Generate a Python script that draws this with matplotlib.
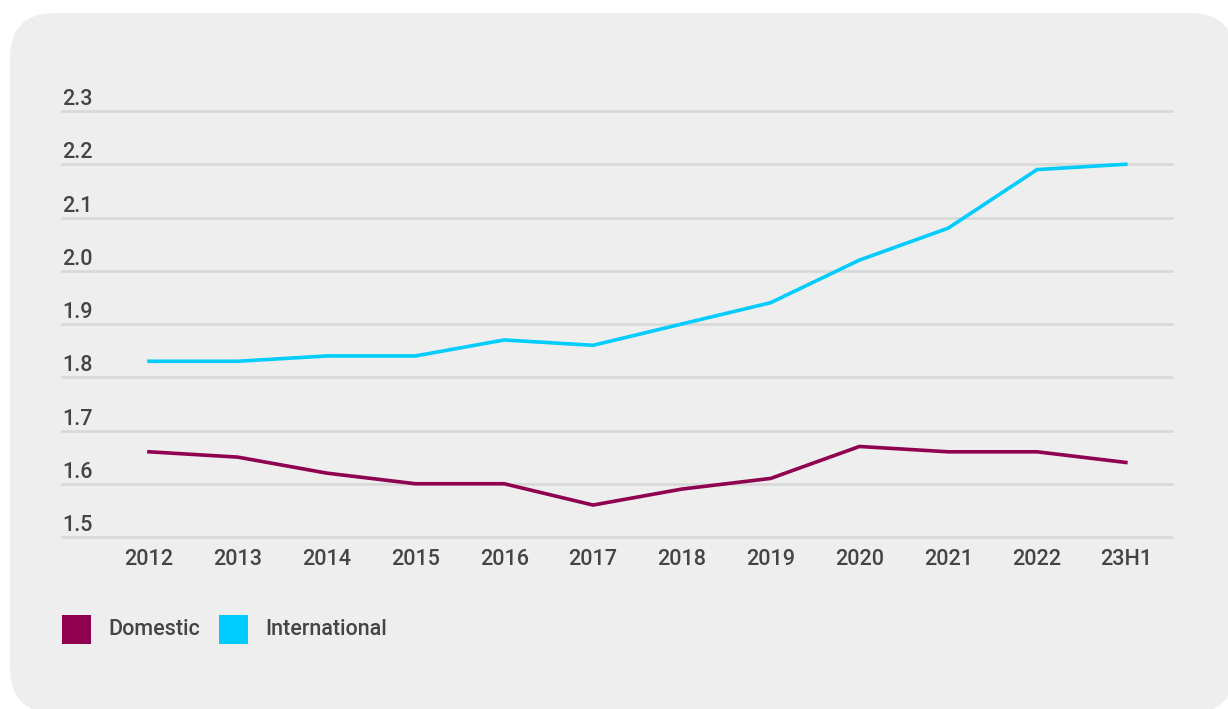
import numpy as np
import matplotlib
matplotlib.use("Agg")
from matplotlib import pyplot as plt
from matplotlib.patches import FancyBboxPatch, Rectangle
from matplotlib.transforms import IdentityTransform, ScaledTranslation, blended_transform_factory

plt.rcParams['font.family'] = ['Roboto', 'DejaVu Sans']
plt.rcParams['font.weight'] = 'medium'

years = ["2012", "2013", "2014", "2015", "2016", "2017",
         "2018", "2019", "2020", "2021", "2022", "23H1"]
domestic = [1.66, 1.65, 1.62, 1.60, 1.60, 1.56, 1.59, 1.61, 1.67, 1.66, 1.66, 1.64]
international = [1.83, 1.83, 1.84, 1.84, 1.87, 1.86, 1.90, 1.94, 2.02, 2.08, 2.19, 2.20]
y_ticks = [1.5, 1.6, 1.7, 1.8, 1.9, 2.0, 2.1, 2.2, 2.3]

dom_color = "#8f004f"
intl_color = "#00ccff"
text_color = "#444444"
grid_color = "#d9d9d9"
panel_color = "#eeeeee"

W, H = 1228, 709
fig = plt.figure(figsize=(W / 100, H / 100), dpi=100)
fig.patch.set_facecolor("white")

# rounded grey card behind everything (pixel coords, origin bottom-left)
card = FancyBboxPatch((10, -4), 1225, 700, boxstyle="round,pad=0,rounding_size=45",
                      transform=IdentityTransform(), facecolor=panel_color,
                      edgecolor="none", zorder=-5)
fig.patches.append(card)

ax = fig.add_axes([62 / W, (H - 537) / H, (1172 - 62) / W, (537 - 111) / H])
ax.set_zorder(2)
ax.set_facecolor("none")
for s in ax.spines.values():
    s.set_visible(False)

x = np.arange(len(years))
ax.set_xlim(-0.98, 11.52)
ax.set_ylim(1.5, 2.3)

for v in y_ticks:
    ax.axhline(v, color=grid_color, lw=2, zorder=1, clip_on=False)

ax.plot(x, domestic, color=dom_color, lw=2.6, zorder=3, solid_joinstyle="miter")
ax.plot(x, international, color=intl_color, lw=2.6, zorder=3, solid_joinstyle="miter")

ax.set_yticks([])
ax.set_xticks(x)
ax.set_xticklabels(years, fontsize=15.5, color=text_color)
ax.tick_params(axis="x", length=0, pad=8.5)

# y labels sit just above their gridline, flush left
lab_tr = blended_transform_factory(ax.transAxes, ax.transData) + \
    ScaledTranslation(0, 6 / 100, fig.dpi_scale_trans)
for v in y_ticks:
    ax.text(0, v, f"{v:.1f}", transform=lab_tr, ha="left", va="baseline",
            fontsize=15.5, color=text_color)

# legend
items = [("Domestic", dom_color, 62, 108), ("International", intl_color, 219, 265)]
for label, col, sx, tx in items:
    fig.add_artist(Rectangle((sx, H - 644), 29, 29, transform=IdentityTransform(),
                             facecolor=col, edgecolor="none"))
    fig.text(tx / W, (H - 629.5) / H, label, ha="left", va="center",
             fontsize=15.5, color=text_color)

fig.savefig("out.png", dpi=100)
